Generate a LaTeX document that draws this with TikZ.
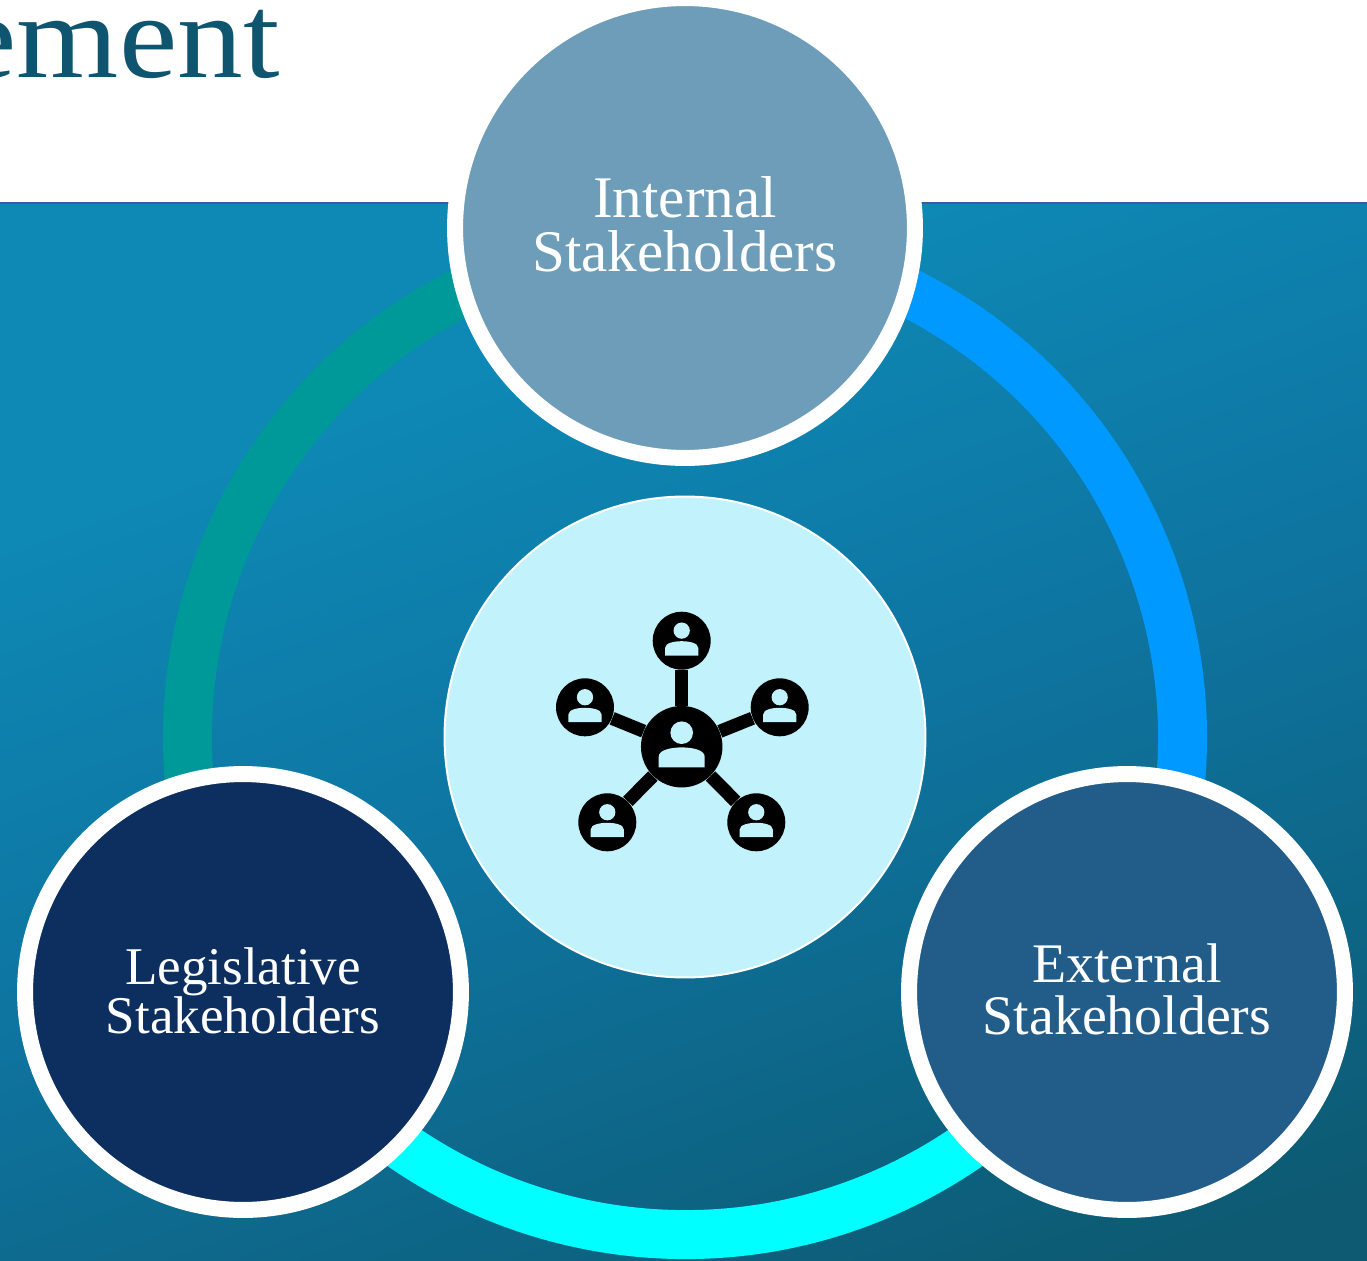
\documentclass[tikz,border=0pt]{standalone}
\usepackage{fontspec}
\setmainfont{Liberation Serif}
\definecolor{paneltop}{HTML}{0E88B5}
\definecolor{panelmid}{HTML}{0E74A0}
\definecolor{panelend}{HTML}{0D5A72}
\definecolor{hubfill}{HTML}{C2F2FB}
\definecolor{titleink}{HTML}{0F5570}
\pgfdeclareverticalshading{panelshade}{100bp}{color(0bp)=(panelend); color(21bp)=(panelend); color(48bp)=(panelmid); color(68bp)=(paneltop); color(100bp)=(paneltop)}
\begin{document}
\begin{tikzpicture}[x=0.02cm,y=0.02cm,
  main node/.style={circle,draw=white,line width=0.32cm,text=white,align=center,inner sep=0pt},
  icon node/.style={circle,fill=black,inner sep=0pt},
  ring/.style={line width=0.98cm},
  spoke/.style={line width=0.265cm,draw=black},
  person/.pic={
    \fill[hubfill] (0,14) circle (11.3);
    \fill[hubfill] (-23,-20.7) -- (-23,-10) .. controls (-23,-3) and (-10,-0.7) .. (0,-0.7)
      .. controls (10,-0.7) and (23,-3) .. (23,-10) -- (23,-20.7) -- cycle;
  }]
  \useasboundingbox (0,0) rectangle (1367,-1261);

  \node[anchor=base east,text=titleink,font=\fontsize{68}{68}\selectfont,xscale=1.1,inner sep=0pt] (title) at (280,-77) {ement};

  \shade[shading=panelshade,shading angle=20] (0,-203) rectangle (1367,-1261);
  \draw[line width=0.04cm,draw={rgb,255:red,59;green,92;blue,155}] (0,-203) -- (1367,-203);

  % ring is drawn first, the big circles sit on top of its ends
  \coordinate (hub c) at (685,-737);
  \coordinate (ring top) at (685,-239.5);
  \coordinate (ring left) at (254.2,-985.75);
  \coordinate (ring right) at (1115.8,-985.75);
  \draw[ring,draw={rgb,255:red,0;green,153;blue,153}] (ring top) arc[start angle=90,end angle=210,radius=497.5];
  \draw[ring,draw={rgb,255:red,0;green,255;blue,255}] (ring left) arc[start angle=210,end angle=330,radius=497.5];
  \draw[ring,draw={rgb,255:red,0;green,153;blue,255}] (ring right) arc[start angle=-30,end angle=90,radius=497.5];

  \node[circle,draw=white,line width=0.04cm,fill=hubfill,minimum size=9.62cm,inner sep=0pt] (hub) at (hub c) {};

  \node[main node,fill={rgb,255:red,109;green,157;blue,184},minimum size=9.2cm,font=\fontsize{33.6}{31}\selectfont] (internal) at (685,-228) {Internal\\Stakeholders\rule[-4.5pt]{0pt}{0pt}};
  \node[main node,fill={rgb,255:red,12;green,47;blue,95},minimum size=8.72cm,font=\fontsize{30.2}{28}\selectfont] (legislative) at (243,-992) {Legislative\\Stakeholders\rule[-1.8pt]{0pt}{0pt}};
  \node[main node,fill={rgb,255:red,34;green,93;blue,138},minimum size=8.72cm,font=\fontsize{31.8}{29.6}\selectfont] (external) at (1127,-992) {External\\Stakeholders\rule[-3.4pt]{0pt}{0pt}};

  \node[icon node,minimum size=1.63cm] (center) at (681.7,-746.7) {};
  \foreach \name/\px/\py in {up/681.7/640.7,west/585/707.3,east/779.7/707.3,sw/607.3/822.3,se/756.3/822.3}{
    \node[icon node,minimum size=1.16cm] (\name) at (\px,-\py) {};
    \draw[spoke] (center) -- (\name);
    \pic[scale=0.72] at (\name) {person};
  }
  \pic at (center) {person};
\end{tikzpicture}
\end{document}
